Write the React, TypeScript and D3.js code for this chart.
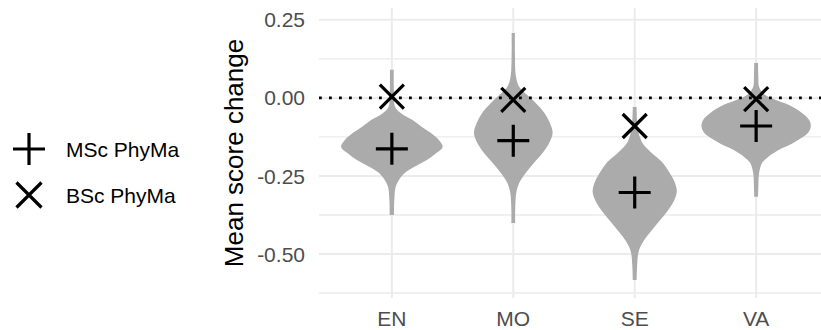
import * as d3 from 'd3';
import React from 'react';

// categories and summary values
const categories = ['EN', 'MO', 'SE', 'VA'];
const mscMeans = [-0.163, -0.137, -0.303, -0.09];
const bscMeans = [0.004, -0.006, -0.09, -0.004];
const yTicks = [-0.5, -0.25, 0, 0.25];
const yMinorTicks = [-0.625, -0.375, -0.125, 0.125];
const legendLabels = ['MSc PhyMa', 'BSc PhyMa'];

// violin outlines: [score, relative density] (1 = full violin width)
const enProfile: [number, number][] = [
  [0.09, 0.035], [0.042, 0.035], [0, 0.04], [-0.029, 0.06], [-0.051, 0.18],
  [-0.071, 0.38], [-0.093, 0.55], [-0.112, 0.71], [-0.135, 0.86], [-0.157, 0.93],
  [-0.176, 0.82], [-0.199, 0.64], [-0.218, 0.44], [-0.24, 0.24], [-0.263, 0.13],
  [-0.285, 0.07], [-0.327, 0.045], [-0.375, 0.04],
];
const moProfile: [number, number][] = [
  [0.208, 0.03], [0.144, 0.03], [0.067, 0.05], [0.035, 0.11], [0.01, 0.25],
  [-0.016, 0.41], [-0.048, 0.57], [-0.08, 0.67], [-0.112, 0.72], [-0.144, 0.66],
  [-0.176, 0.54], [-0.208, 0.38], [-0.24, 0.23], [-0.272, 0.11], [-0.304, 0.055],
  [-0.359, 0.035], [-0.401, 0.035],
];
const seProfile: [number, number][] = [
  [-0.029, 0.035], [-0.096, 0.055], [-0.141, 0.13], [-0.173, 0.29], [-0.205, 0.5],
  [-0.237, 0.63], [-0.269, 0.73], [-0.301, 0.77], [-0.333, 0.71], [-0.365, 0.59],
  [-0.397, 0.44], [-0.429, 0.29], [-0.462, 0.15], [-0.494, 0.07], [-0.535, 0.045],
  [-0.583, 0.035],
];
const vaProfile: [number, number][] = [
  [0.112, 0.035], [0.067, 0.04], [0.035, 0.055], [0.012, 0.15], [-0.006, 0.35],
  [-0.022, 0.59], [-0.048, 0.84], [-0.071, 0.97], [-0.09, 1.0], [-0.112, 0.95],
  [-0.141, 0.71], [-0.167, 0.41], [-0.189, 0.22], [-0.208, 0.11], [-0.24, 0.055],
  [-0.285, 0.04], [-0.317, 0.035],
];
const profiles = [enProfile, moProfile, seProfile, vaProfile];

const width = 821;
const height = 330;
const panel = { left: 319, right: 829, top: 8, bottom: 298 };
const font = '"Liberation Sans", Arial, Helvetica, sans-serif';

const Plus = ({ x, y, s = 32 }: { x: number; y: number; s?: number }) => (
  <path d={`M${x - s / 2},${y}H${x + s / 2}M${x},${y - s / 2}V${y + s / 2}`} stroke="black" strokeWidth={3.2} fill="none" />
);
const Cross = ({ x, y, s = 24 }: { x: number; y: number; s?: number }) => (
  <path
    d={`M${x - s / 2},${y - s / 2}L${x + s / 2},${y + s / 2}M${x - s / 2},${y + s / 2}L${x + s / 2},${y - s / 2}`}
    stroke="black" strokeWidth={3.2} fill="none"
  />
);

export default function App() {
  const xScale = d3.scalePoint().domain(categories).range([panel.left, panel.right]).padding(0.6);
  const yScale = d3.scaleLinear().domain([-0.641, 0.288]).range([panel.bottom, panel.top]);
  const wScale = d3.scaleLinear().domain([0, 1]).range([0, xScale.step() * 0.45]);

  return (
    <svg width={width} height={height} style={{ position: 'absolute', left: 0, top: 0 }} fontFamily={font}>
      <rect width={width} height={height} fill="white" />
      {/* grid */}
      {yMinorTicks.map(t => (
        <line key={'m' + t} x1={panel.left} x2={panel.right} y1={yScale(t)} y2={yScale(t)} stroke="#EBEBEB" strokeWidth={1.4} />
      ))}
      {yTicks.map(t => (
        <line key={'g' + t} x1={panel.left} x2={panel.right} y1={yScale(t)} y2={yScale(t)} stroke="#EBEBEB" strokeWidth={2} />
      ))}
      {categories.map(c => (
        <line key={'v' + c} x1={xScale(c)} x2={xScale(c)} y1={panel.top} y2={panel.bottom} stroke="#EBEBEB" strokeWidth={2} />
      ))}
      {/* violins */}
      {categories.map((c, i) => {
        const cx = xScale(c) as number;
        const area = d3.area<[number, number]>()
          .y(d => yScale(d[0]))
          .x0(d => cx - wScale(d[1]))
          .x1(d => cx + wScale(d[1]))
          .curve(d3.curveCatmullRom.alpha(0.5));
        return <path key={'vi' + c} d={area(profiles[i]) || ''} fill="#ABABAB" />;
      })}
      {/* zero reference */}
      <line x1={panel.left} x2={panel.right} y1={yScale(0)} y2={yScale(0)} stroke="black" strokeWidth={2.8} strokeDasharray="2.8 7.2" />
      {/* means */}
      {categories.map((c, i) => (
        <g key={'p' + c}>
          <Cross x={xScale(c) as number} y={yScale(bscMeans[i])} />
          <Plus x={xScale(c) as number} y={yScale(mscMeans[i])} />
        </g>
      ))}
      {/* y axis */}
      {yTicks.map(t => (
        <text key={'yt' + t} x={305} y={yScale(t)} dy="0.36em" textAnchor="end" fontSize={21} fill="#4D4D4D">
          {d3.format('.2f')(t).replace('−', '-')}
        </text>
      ))}
      <text transform={`translate(243,${(panel.top + panel.bottom) / 2}) rotate(-90)`} textAnchor="middle" fontSize={26} fill="black">
        Mean score change
      </text>
      {/* x axis */}
      {categories.map(c => (
        <text key={'xt' + c} x={xScale(c)} y={326} textAnchor="middle" fontSize={21} fill="#4D4D4D">
          {c}
        </text>
      ))}
      {/* legend */}
      <Plus x={29} y={149} />
      <text x={66} y={157} fontSize={21} fill="black">{legendLabels[0]}</text>
      <Cross x={29} y={195} s={25} />
      <text x={66} y={203} fontSize={21} fill="black">{legendLabels[1]}</text>
    </svg>
  );
}
